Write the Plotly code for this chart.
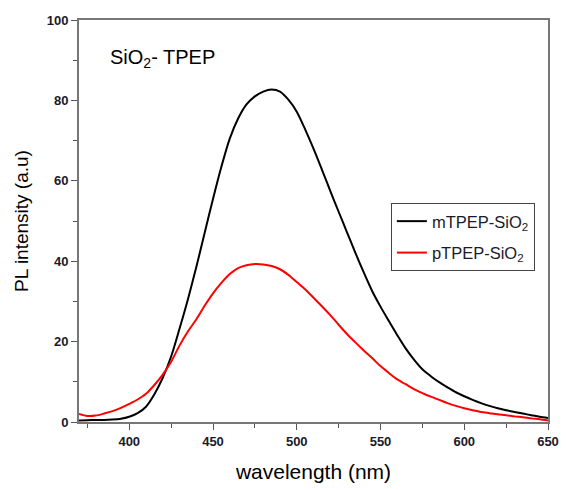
import plotly.graph_objects as go

wavelength = list(range(370, 651, 5))

m_tpep = [0.4, 0.45, 0.5, 0.5, 0.6, 0.8, 1.3, 2.2, 3.8, 6.9,
          11.0, 16.3, 23.2, 30.5, 38.5, 47.0, 55.5, 63.5, 70.5, 75.5,
          79.0, 81.0, 82.2, 82.7, 82.2, 80.2, 77.2, 72.8, 68.0, 62.8,
          57.5, 52.3, 47.2, 42.1, 37.2, 32.6, 28.7, 25.1, 21.6, 18.3,
          15.5, 13.1, 11.4, 9.9, 8.6, 7.4, 6.4, 5.5, 4.7, 4.0,
          3.4, 2.9, 2.5, 2.1, 1.7, 1.3, 1.0]

p_tpep = [2.0, 1.5, 1.6, 2.1, 2.7, 3.5, 4.5, 5.6, 7.0, 9.2,
          11.8, 15.0, 19.0, 22.5, 25.5, 28.9, 32.0, 34.6, 36.8, 38.3,
          39.0, 39.3, 39.2, 38.8, 38.0, 36.6, 34.8, 33.0, 30.9, 28.8,
          26.6, 24.2, 21.9, 19.8, 17.8, 15.9, 13.9, 12.2, 10.6, 9.4,
          8.2, 7.2, 6.3, 5.5, 4.7, 4.0, 3.4, 2.9, 2.5, 2.2,
          1.9, 1.7, 1.4, 1.2, 0.9, 0.7, 0.4]

x_ticks = [400, 450, 500, 550, 600, 650]
y_ticks = [0, 20, 40, 60, 80, 100]

fig = go.Figure()
fig.add_trace(go.Scatter(x=wavelength, y=m_tpep, mode="lines",
                         name="mTPEP-SiO<sub>2</sub>", legendgroup="a",
                         line=dict(color="black", width=2, shape="spline", smoothing=0.8)))
fig.add_trace(go.Scatter(x=wavelength, y=p_tpep, mode="lines",
                         name="pTPEP-SiO<sub>2</sub>", legendgroup="b",
                         line=dict(color="#ff0000", width=2, shape="spline", smoothing=0.8)))

axis_common = dict(
    showgrid=False, zeroline=False, showline=True, linecolor="#777777",
    linewidth=2, mirror=True, ticks="outside", ticklen=6, tickwidth=1,
    tickcolor="#555555", ticklabeloverflow="allow",
    tickfont=dict(family="Arial, Liberation Sans", size=13, color="#1a1a2a",
                  weight="bold"),
)

fig.update_xaxes(range=[370, 650], tickvals=x_ticks,
                 minor=dict(ticks="outside", ticklen=4, dtick=25, tick0=375,
                            tickcolor="#555555"),
                 title=dict(text="wavelength (nm)", standoff=17,
                            font=dict(family="Arial, Liberation Sans", size=21, color="black")),
                 **axis_common)
fig.update_yaxes(range=[0, 100], tickvals=y_ticks,
                 minor=dict(ticks="outside", ticklen=4, dtick=10, tick0=10,
                            tickcolor="#555555"),
                 title=dict(text="PL intensity (a.u)", standoff=13,
                            font=dict(family="Arial, Liberation Sans", size=19, color="black")),
                 **axis_common)

fig.add_annotation(x=0.062, y=0.905, xref="paper", yref="paper",
                   xanchor="left", yanchor="middle", showarrow=False,
                   text="SiO<sub>2</sub>- TPEP",
                   font=dict(family="Arial, Liberation Sans", size=20, color="black"))

fig.update_layout(
    width=569, height=490,
    margin=dict(l=79, r=10, t=20, b=55),
    paper_bgcolor="white", plot_bgcolor="white",
    showlegend=True,
    legend=dict(x=0.665, y=0.545, xanchor="left", yanchor="top",
                bordercolor="#444444", borderwidth=1, bgcolor="white",
                tracegroupgap=7,
                font=dict(family="Arial, Liberation Sans", size=16.5, color="#1a1a2a")),
)

fig.write_html("out.html",
               config={"displayModeBar": False},
               post_script="document.body.style.margin='0';"
                           "document.body.style.overflow='hidden';")
